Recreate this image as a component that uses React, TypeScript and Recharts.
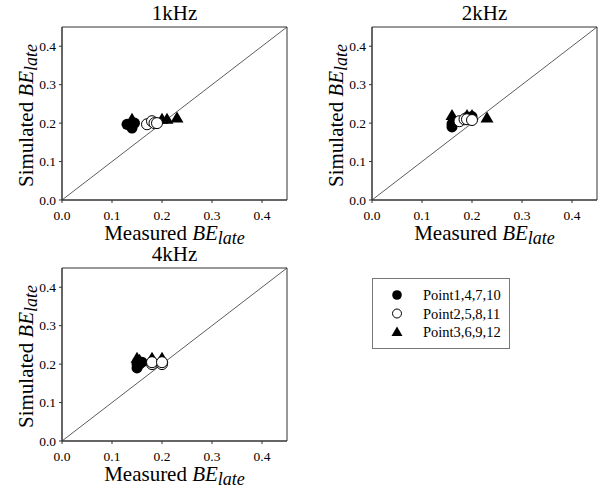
import React from "react";
import {
  ScatterChart,
  Scatter,
  XAxis,
  YAxis,
  ReferenceLine,
  ReferenceArea,
} from "recharts";

type Pt = { x: number; y: number };

const axisTicks = [0, 0.1, 0.2, 0.3, 0.4];
const seriesNames = ["Point1,4,7,10", "Point2,5,8,11", "Point3,6,9,12"];

// 1kHz
const filled1k: Pt[] = [
  { x: 0.13, y: 0.197 },
  { x: 0.135, y: 0.195 },
  { x: 0.14, y: 0.187 },
  { x: 0.145, y: 0.2 },
];
const open1k: Pt[] = [
  { x: 0.17, y: 0.197 },
  { x: 0.18, y: 0.205 },
  { x: 0.185, y: 0.2 },
  { x: 0.19, y: 0.2 },
];
const tri1k: Pt[] = [
  { x: 0.14, y: 0.21 },
  { x: 0.2, y: 0.21 },
  { x: 0.21, y: 0.21 },
  { x: 0.23, y: 0.213 },
];

// 2kHz
const filled2k: Pt[] = [
  { x: 0.16, y: 0.198 },
  { x: 0.16, y: 0.19 },
  { x: 0.19, y: 0.215 },
  { x: 0.2, y: 0.217 },
];
const open2k: Pt[] = [
  { x: 0.175, y: 0.205 },
  { x: 0.185, y: 0.21 },
  { x: 0.19, y: 0.21 },
  { x: 0.2, y: 0.208 },
];
const tri2k: Pt[] = [
  { x: 0.16, y: 0.22 },
  { x: 0.19, y: 0.22 },
  { x: 0.2, y: 0.22 },
  { x: 0.23, y: 0.213 },
];

// 4kHz
const filled4k: Pt[] = [
  { x: 0.15, y: 0.19 },
  { x: 0.15, y: 0.2 },
  { x: 0.155, y: 0.2 },
  { x: 0.16, y: 0.205 },
];
const open4k: Pt[] = [
  { x: 0.18, y: 0.2 },
  { x: 0.2, y: 0.2 },
  { x: 0.18, y: 0.205 },
  { x: 0.2, y: 0.205 },
];
const tri4k: Pt[] = [
  { x: 0.15, y: 0.215 },
  { x: 0.155, y: 0.21 },
  { x: 0.18, y: 0.215 },
  { x: 0.2, y: 0.215 },
];

const FONT = "Liberation Serif";

const FilledDot = (p: any) => <circle cx={p.cx} cy={p.cy} r={5.5} fill="#000" />;
const OpenDot = (p: any) => (
  <circle cx={p.cx} cy={p.cy} r={5.5} fill="#fff" stroke="#000" strokeWidth={1} />
);
const Tri = (p: any) => (
  <polygon
    points={`${p.cx},${p.cy - 6.5} ${p.cx - 6.5},${p.cy + 4.5} ${p.cx + 6.5},${p.cy + 4.5}`}
    fill="#000"
  />
);

const XTick = (p: any) => (
  <text x={p.x} y={p.y + 15} textAnchor="middle" fontFamily={FONT} fontSize={13.5} fill="#000">
    {Number(p.payload.value).toFixed(1)}
  </text>
);
const YTick = (p: any) => (
  <text x={p.x - 1} y={p.y + 4.5} textAnchor="end" fontFamily={FONT} fontSize={13.5} fill="#000">
    {Number(p.payload.value).toFixed(1)}
  </text>
);

function BELabel({ prefix, x, y, rotate }: { prefix: string; x: number; y: number; rotate?: boolean }) {
  return (
    <text
      x={x}
      y={y}
      textAnchor="middle"
      fontFamily={FONT}
      fontSize={21}
      fill="#000"
      transform={rotate ? `rotate(-90, ${x}, ${y})` : undefined}
    >
      {prefix}{" "}
      <tspan fontStyle="italic">BE</tspan>
      <tspan fontStyle="italic" fontSize={18} dy={4}>
        late
      </tspan>
    </text>
  );
}

interface PanelProps {
  title: string;
  filled: Pt[];
  open: Pt[];
  tri: Pt[];
  left: number;
  top: number;
  yWidth: number;
  right: number;
}

function Panel({ title, filled, open, tri, left, top, yWidth, right }: PanelProps) {
  const W = 300;
  const H = 245;
  const plotLeft = yWidth;
  const plotRight = W - right;
  const cx = (plotLeft + plotRight) / 2;
  return (
    <div style={{ position: "absolute", left, top, width: W, height: H }}>
      <div
        style={{
          position: "absolute",
          left: cx - 50,
          width: 100,
          top: 1,
          textAlign: "center",
          fontFamily: FONT,
          fontSize: 21,
          lineHeight: "24px",
          color: "#000",
        }}
      >
        {title}
      </div>
      <ScatterChart width={W} height={H} margin={{ top: 27, right, bottom: 0, left: 0 }}>
        <XAxis
          type="number"
          dataKey="x"
          domain={[0, 0.45]}
          ticks={axisTicks}
          allowDataOverflow
          height={45}
          tickSize={3}
          stroke="#333"
          tick={XTick}
          label={{
            content: (props: any) => {
              const vb = props.viewBox;
              return <BELabel prefix="Measured" x={vb.x + vb.width / 2} y={vb.y + 40} />;
            },
          }}
        />
        <YAxis
          type="number"
          dataKey="y"
          domain={[0, 0.45]}
          ticks={axisTicks}
          allowDataOverflow
          width={yWidth}
          tickSize={3}
          stroke="#333"
          tick={YTick}
          label={{
            content: (props: any) => {
              const vb = props.viewBox;
              return (
                <BELabel
                  prefix="Simulated"
                  x={vb.x + vb.width - 29}
                  y={vb.y + vb.height / 2 + 2}
                  rotate
                />
              );
            },
          }}
        />
        <ReferenceArea x1={0} x2={0.45} y1={0} y2={0.45} fill="none" stroke="#333" strokeWidth={1} />
        <ReferenceLine
          segment={[
            { x: 0, y: 0 },
            { x: 0.45, y: 0.45 },
          ]}
          stroke="#333"
          strokeWidth={0.8}
        />
        <Scatter name={seriesNames[0]} data={filled} shape={FilledDot} isAnimationActive={false} />
        <Scatter name={seriesNames[2]} data={tri} shape={Tri} isAnimationActive={false} />
        <Scatter name={seriesNames[1]} data={open} shape={OpenDot} isAnimationActive={false} />
      </ScatterChart>
    </div>
  );
}

// legend drawn as svg so the serif font is used for sure
function LegendBox() {
  return (
    <svg style={{ position: "absolute", left: 372, top: 278 }} width={138} height={71}>
      <rect x={0.5} y={0.5} width={137} height={70} fill="#fff" stroke="#777" />
      {seriesNames.map((name, i) => {
        const cy = 17 + i * 18.5;
        let icon;
        if (i === 0) icon = <circle cx={25} cy={cy} r={4.8} fill="#000" />;
        else if (i === 1) icon = <circle cx={25} cy={cy} r={4.5} fill="#fff" stroke="#000" strokeWidth={1} />;
        else icon = <polygon points={`25,${cy - 5.5} 19.5,${cy + 4} 30.5,${cy + 4}`} fill="#000" />;
        return (
          <g key={name}>
            {icon}
            <text x={51} y={cy + 5} fontFamily={FONT} fontSize={14.5} fill="#000">
              {name}
            </text>
          </g>
        );
      })}
    </svg>
  );
}

export default function App() {
  return (
    <div style={{ position: "absolute", left: 0, top: 0, width: 600, height: 488, background: "#fff", overflow: "hidden" }}>
      <style>{".recharts-surface{overflow:visible}"}</style>
      <Panel title="1kHz" filled={filled1k} open={open1k} tri={tri1k} left={0} top={0} yWidth={62} right={13} />
      <Panel title="2kHz" filled={filled2k} open={open2k} tri={tri2k} left={300} top={0} yWidth={72} right={3} />
      <Panel title="4kHz" filled={filled4k} open={open4k} tri={tri4k} left={0} top={241} yWidth={62} right={13} />
      <LegendBox />
    </div>
  );
}
